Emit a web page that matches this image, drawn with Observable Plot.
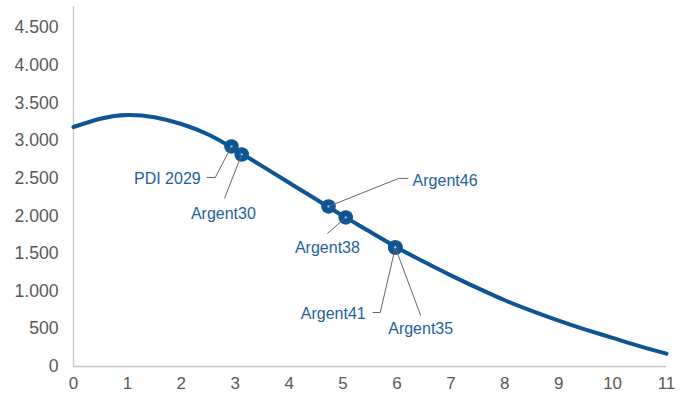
<!DOCTYPE html>
<html>
<head>
<meta charset="utf-8">
<script src="https://cdn.jsdelivr.net/npm/d3@7"></script>
<script src="https://cdn.jsdelivr.net/npm/@observablehq/plot@0.6"></script>
<style>
  html, body { margin: 0; padding: 0; background: #fff; }
</style>
</head>
<body>
<div id="chart"></div>
<script>
// Curve values
const curveX = [0, 0.5, 1, 1.5, 2, 2.5, 3, 3.5, 4, 4.5, 5, 5.5, 6, 6.5, 7, 7.5, 8, 8.5, 9, 9.5, 10, 10.5, 11];
const curveY = [3180, 3290, 3340, 3310, 3220, 3080, 2880, 2660, 2440, 2220, 2000, 1790, 1580, 1390, 1210, 1040, 880, 740, 610, 490, 380, 270, 170];

// Bonds on the curve
const bondNames = ["PDI 2029", "Argent30", "Argent46", "Argent38", "Argent41", "Argent35"];
const bondX = [2.93, 3.12, 4.73, 5.05, 5.97, 5.97];
const bondY = [2922, 2815, 2125, 1979, 1580, 1580];

// Label placement (data units)
const labelX = [2.36, 2.78, 6.29, 4.71, 5.42, 6.44];
const labelY = [2497, 2032, 2470, 1580, 704, 505];
const labelAnchor = ["end", "middle", "start", "middle", "end", "middle"];
// Leader lines: elbow point and end point (data units)
const elbowX = [2.63, 2.80, 6.03, 4.71, 5.69, 6.44];
const elbowY = [2510, 2231, 2497, 1766, 717, 677];
const endX = [2.47, 2.80, 6.21, 4.71, 5.55, 6.44];
const endY = [2510, 2231, 2497, 1766, 717, 677];

const yTicks = [0, 500, 1000, 1500, 2000, 2500, 3000, 3500, 4000, 4500];
const xTicks = [0, 1, 2, 3, 4, 5, 6, 7, 8, 9, 10, 11];

const curve = curveX.map((x, i) => ({x, y: curveY[i]}));
const bonds = bondNames.map((name, i) => ({
  name, x: bondX[i], y: bondY[i],
  lx: labelX[i], ly: labelY[i], anchor: labelAnchor[i],
  ex: elbowX[i], ey: elbowY[i], tx: endX[i], ty: endY[i]
}));

const blue = "#0d5595";
const labelBlue = "#1f5f9e";
const fmt = d => d3.format(",")(d).replace(/,/g, ".");

const chart = Plot.plot({
  width: 690,
  height: 397,
  marginLeft: 73,
  marginRight: 24,
  marginTop: 6,
  marginBottom: 31,
  style: {fontFamily: "'Liberation Sans', Arial, sans-serif", fontSize: "17px", color: "#595959", background: "#fff"},
  x: {domain: [0, 11]},
  y: {domain: [0, 4780]},
  marks: [
    Plot.axisY({ticks: yTicks, tickFormat: fmt, tickSize: 0, tickPadding: 15, label: null, fontSize: 17.6}),
    Plot.axisX({ticks: xTicks, tickFormat: d => String(d), tickSize: 0, tickPadding: 10, label: null, fontSize: 17}),
    Plot.ruleX([0], {stroke: "#c8c8c8", strokeWidth: 1.3}),
    Plot.ruleY([0], {stroke: "#c8c8c8", strokeWidth: 1.3}),
    Plot.line(curve, {x: "x", y: "y", curve: "natural", stroke: blue, strokeWidth: 4}),
    Plot.dot(bonds, {x: "x", y: "y", r: 7.3, fill: blue, stroke: "none"}),
    Plot.dot(bonds, {x: "x", y: "y", r: 1, fill: "#fff", stroke: "none"}),
    Plot.link(bonds, {x1: "x", y1: "y", x2: "ex", y2: "ey", stroke: "#666", strokeWidth: 1}),
    Plot.link(bonds, {x1: "ex", y1: "ey", x2: "tx", y2: "ty", stroke: "#666", strokeWidth: 1}),
    Plot.text(bonds.filter(d => d.anchor === "end"), {x: "lx", y: "ly", text: "name", textAnchor: "end", fill: labelBlue, fontSize: 16}),
    Plot.text(bonds.filter(d => d.anchor === "start"), {x: "lx", y: "ly", text: "name", textAnchor: "start", fill: labelBlue, fontSize: 16}),
    Plot.text(bonds.filter(d => d.anchor === "middle"), {x: "lx", y: "ly", text: "name", textAnchor: "middle", fill: labelBlue, fontSize: 16})
  ]
});
document.getElementById("chart").appendChild(chart);
</script>
</body>
</html>
